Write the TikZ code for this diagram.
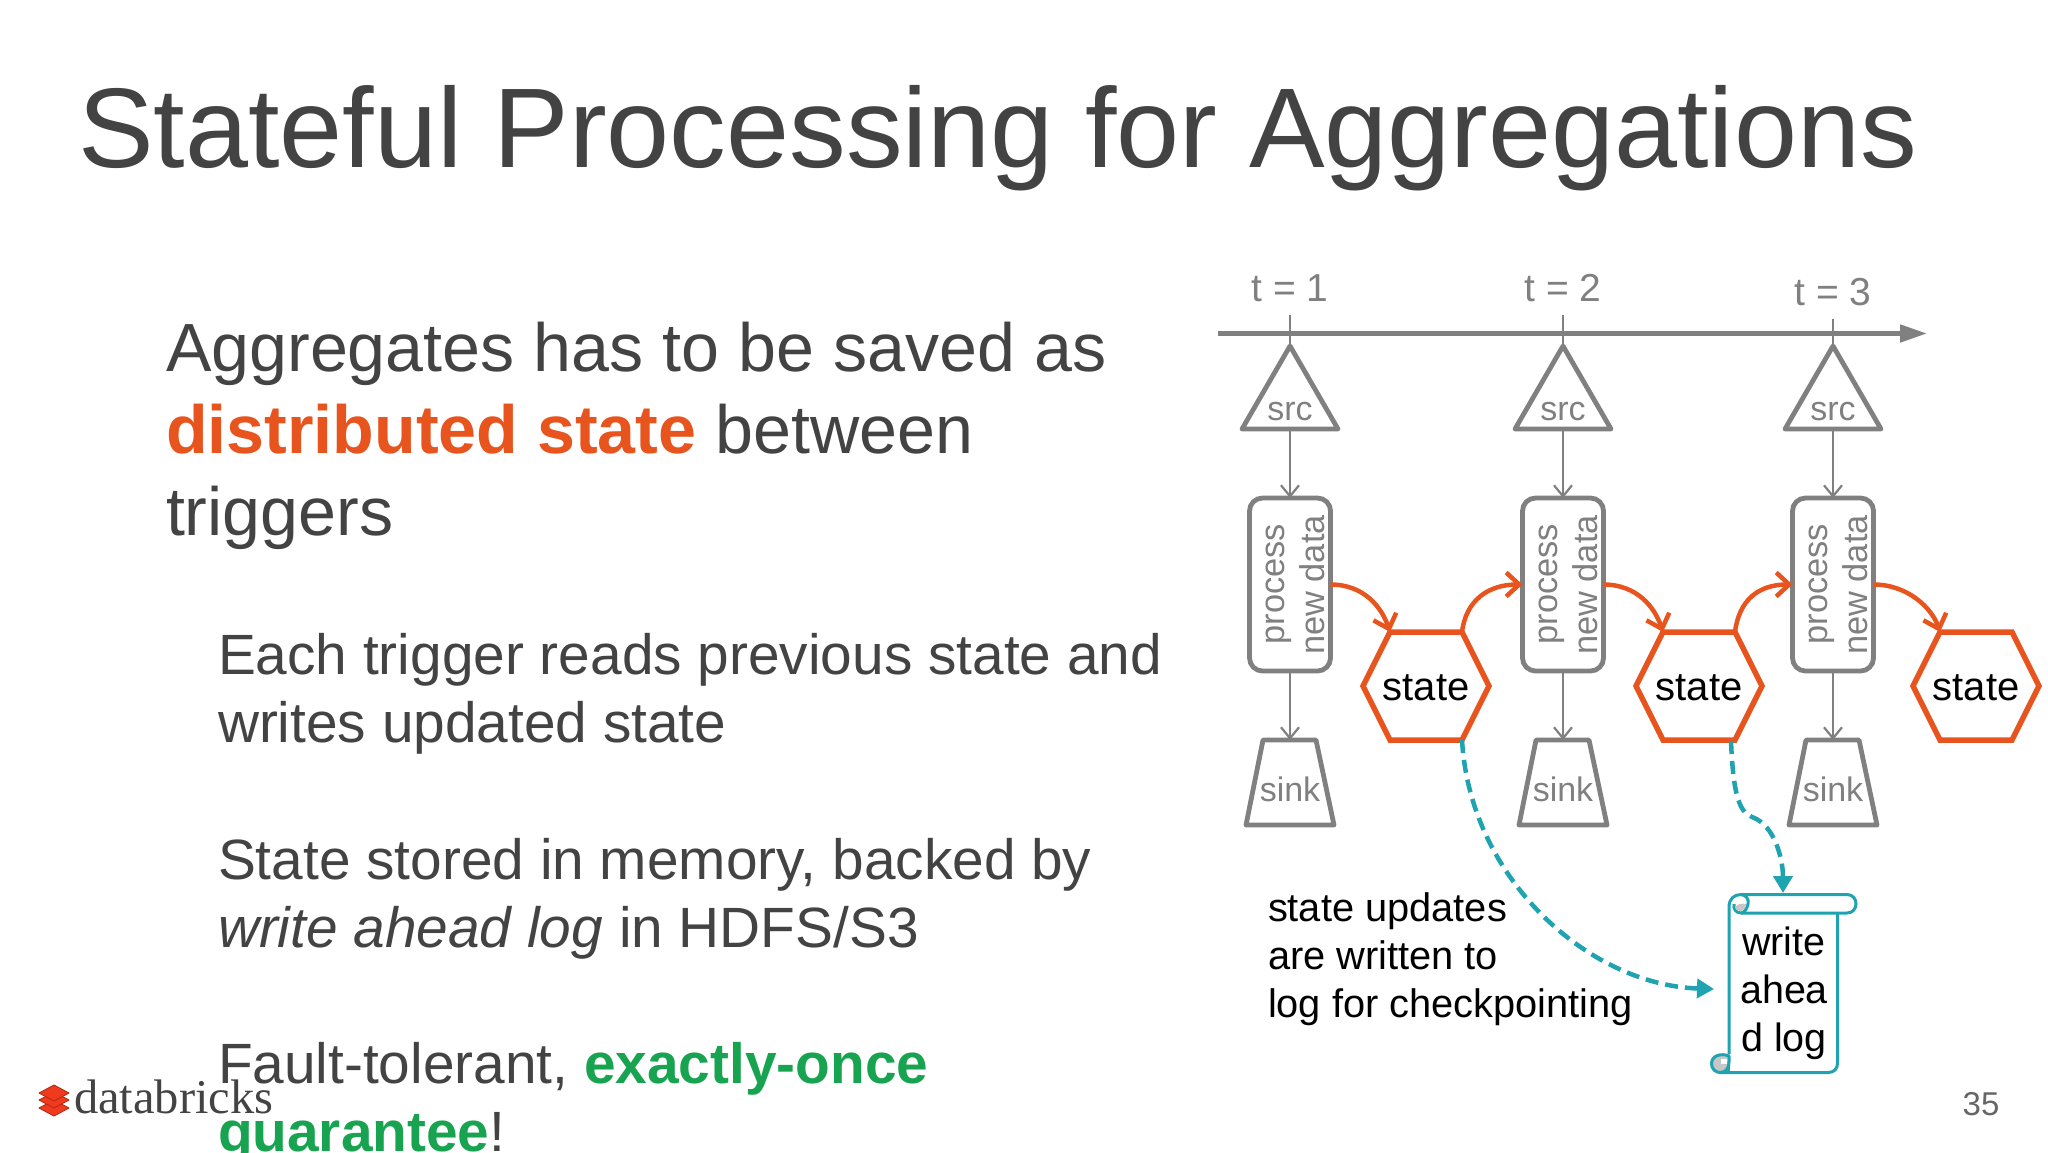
\documentclass[tikz,border=0pt]{standalone}
\usepackage{fontspec}
\setmainfont{Liberation Sans}
\newfontfamily\logofont{Liberation Serif}
\usetikzlibrary{arrows.meta,calc}
\definecolor{ink}{HTML}{434343}
\definecolor{flow}{HTML}{808080}
\definecolor{hot}{HTML}{E8541E}
\definecolor{teal}{HTML}{1FA3B1}
\definecolor{grn}{HTML}{17A34F}
\definecolor{logored}{HTML}{F03A1E}
\newcommand{\fs}[1]{\fontsize{#1}{#1}\selectfont}
\tikzset{
  every node/.style={inner sep=0pt,outer sep=0pt},
  txt/.style={anchor=base west,text=ink},
  title/.style={txt,font=\fs{113.3}},
  lead/.style={txt,font=\fs{68.2}},
  sub/.style={txt,font=\fs{56.8}},
  tlabel/.style={anchor=base,text=flow,font=\fs{39}},
  shapeline/.style={draw=flow,line width=4.8pt,line join=round},
  flowtext/.style={text=flow,font=\fs{34}},
  procbox/.style={draw=flow,line width=4.8pt,rounded corners=13pt,minimum width=81pt,minimum height=173pt},
  proctext/.style={rotate=90,text=flow,font=\fs{34.4}},
  thin/.style={draw=flow,line width=2.2pt,-{Straight Barb[length=11pt,width=18pt,line width=2.2pt]}},
  hexline/.style={draw=hot,line width=5.5pt,line join=miter},
  statetext/.style={text=black,font=\fs{40}},
  hotarrow/.style={draw=hot,line width=4.5pt,-{Straight Barb[length=13pt,width=24pt,line width=4.5pt]}},
  dash1/.style={draw=teal,line width=4.5pt,dash pattern=on 13pt off 7pt,-{Triangle[length=17pt,width=19pt]}},
  scrollline/.style={draw=teal,line width=3pt,line join=round},
  note/.style={anchor=base west,text=black,font=\fs{39.8}},
  logtext/.style={anchor=base,text=black,font=\fs{39.5}},
  logolayer/.style={fill=logored,draw=logored!75!black,line width=0.9pt,line join=round},
}
\begin{document}
\begin{tikzpicture}[x=1pt,y=-1pt]
\useasboundingbox (0,0) rectangle (2048,1152);
\clip (0,0) rectangle (2048,1152);
\fill[white] (0,0) rectangle (2048,1152);

% Slide text
\node[title] (title) at (78,167) {Stateful Processing for Aggregations};
\node[lead] (l1) at (166,371) {Aggregates has to be saved as};
\node[lead] (l2) at (166,453) {\textbf{\textcolor{hot}{distributed state}} between};
\node[lead] (l3) at (166,535) {triggers};
\node[sub] (s1) at (218,674) {Each trigger reads previous state and};
\node[sub] (s2) at (218,742) {writes updated state};
\node[sub] (s3) at (218,879) {State stored in memory, backed by};
\node[sub] (s4) at (218,947) {\textit{write ahead log} in HDFS/S3};
\node[sub] (s5) at (218,1083) {Fault-tolerant, \textbf{\textcolor{grn}{exactly-once}}};
\node[sub] (s6) at (218,1151) {\textbf{\textcolor{grn}{guarantee}}!};

% Timeline
\coordinate (tstart) at (1218,333.5);
\coordinate (tend) at (1927,333.5);
\draw[draw=flow,line width=4.8pt,-{Triangle[length=27pt,width=17pt]}] (tstart) -- (tend);

% Columns
\foreach \i/\x/\hx/\ty/\tt in {1/1290/1426/315/301,2/1563/1699/315/301,3/1833/1976/319/305}{
  \node[tlabel] (t\i) at (\x,\tt) {t = \i};
  \coordinate (tick\i) at (\x,\ty);
  \coordinate (apex\i) at (\x,346);
  \draw[draw=flow,line width=1.5pt] (tick\i) -- (apex\i);
  \draw[shapeline] (apex\i) -- (\x-48,429) -- (\x+48,429) -- cycle;
  \coordinate (srcbot\i) at (\x,429);
  \node[flowtext] (src\i) at (\x,412) {src};
  \node[procbox] (p\i) at (\x,584.5) {};
  \node[proctext] (pa\i) at (\x-11,584) {process};
  \node[proctext] (pb\i) at (\x+22,585) {new data};
  \coordinate (sinktop\i) at (\x,740);
  \draw[shapeline] (\x-27,740) -- (\x+26,740) -- (\x+44,825) -- (\x-44,825) -- cycle;
  \node[flowtext] (sink\i) at (\x,789) {sink};
  \draw[thin] (srcbot\i) -- (p\i.north);
  \draw[thin] (p\i.south) -- (sinktop\i);
  % state hexagon
  \coordinate (htl\i) at (\hx-36,632);
  \coordinate (htr\i) at (\hx+36,632);
  \coordinate (hbr\i) at (\hx+36,740);
  \draw[hexline] (htl\i) -- (htr\i) -- (\hx+63,686) -- (hbr\i) -- (\hx-36,740) -- (\hx-63,686) -- cycle;
  \node[statetext] (st\i) at (\hx,688) {state};
  \draw[hotarrow] (p\i.east) .. controls ($(p\i.east)+(34,0)$) and ($(htl\i)+(-8,-24)$) .. (htl\i);
}
\draw[hotarrow] (htr1) .. controls ($(htr1)+(4,-32)$) and ($(p2.west)+(-34,0)$) .. (p2.west);
\draw[hotarrow] (htr2) .. controls ($(htr2)+(4,-32)$) and ($(p3.west)+(-34,0)$) .. (p3.west);

% Scroll
\draw[scrollline] (1729,1054) -- (1729,907) .. controls (1729,899) and (1734,894.5) .. (1741,894.5)
  -- (1847,894.5) .. controls (1859,894.5) and (1859,913) .. (1847,913) -- (1741,913);
\draw[scrollline] (1741,894.5) .. controls (1746,895) and (1749,899) .. (1748,904) .. controls (1747,909) and (1744,913) .. (1741,913)
  .. controls (1736,913) and (1733,909) .. (1734,904);
\fill[black!22] (1735,908) .. controls (1736,904) and (1742,903) .. (1746,904) .. controls (1745,909) and (1743,911) .. (1741,911) .. controls (1738,911) and (1736,910) .. (1735,908) -- cycle;
\draw[scrollline] (1837.5,913) -- (1837.5,1063) .. controls (1837.5,1069) and (1834,1072.5) .. (1828,1072.5) -- (1720,1072.5);
\draw[scrollline,fill=black!22] (1729,1056) .. controls (1722,1053) and (1712,1055) .. (1711.5,1063) .. controls (1711,1069) and (1716,1072.5) .. (1720,1072.5) .. controls (1726,1072.5) and (1729,1068) .. (1729,1062) -- (1729,1056) -- cycle;
\draw[teal,line width=2pt] (1729,1056) -- (1729,1072.5);
\fill[white] (1721,1059) rectangle (1727,1064);
\node[logtext] (w1) at (1784,955) {write};
\node[logtext] (w2) at (1784,1003) {ahea};
\node[logtext] (w3) at (1784,1051) {d log};
\coordinate (logtop) at (1783,893);
\coordinate (logleft) at (1714,989);

% Teal dashed connectors
\draw[dash1] (hbr1) .. controls (1470,880) and (1590,985) .. (logleft);
\draw[dash1] (1731,741) .. controls (1733,790) and (1738,812) .. (1752,817) .. controls (1775,825) and (1783,860) .. (logtop);

% Note
\node[note] (n1) at (1268,921) {state updates};
\node[note] (n2) at (1268,969) {are written to};
\node[note] (n3) at (1268,1017) {log for checkpointing};

% Page number
\node[anchor=base,text=black!60,font=\fs{33}] (page) at (1981,1115) {35};

% Logo
\path[logolayer] (54,1100) -- (69,1108) -- (54,1116) -- (39,1108) -- cycle;
\path[logolayer] (54,1092) -- (69,1100) -- (54,1108) -- (39,1100) -- cycle;
\path[logolayer] (54,1085) -- (69,1093) -- (54,1101) -- (39,1093) -- cycle;
\node[anchor=base west,text=ink,font=\logofont\fs{48.5}] (logo) at (74,1113) {databricks};
\end{tikzpicture}
\end{document}
